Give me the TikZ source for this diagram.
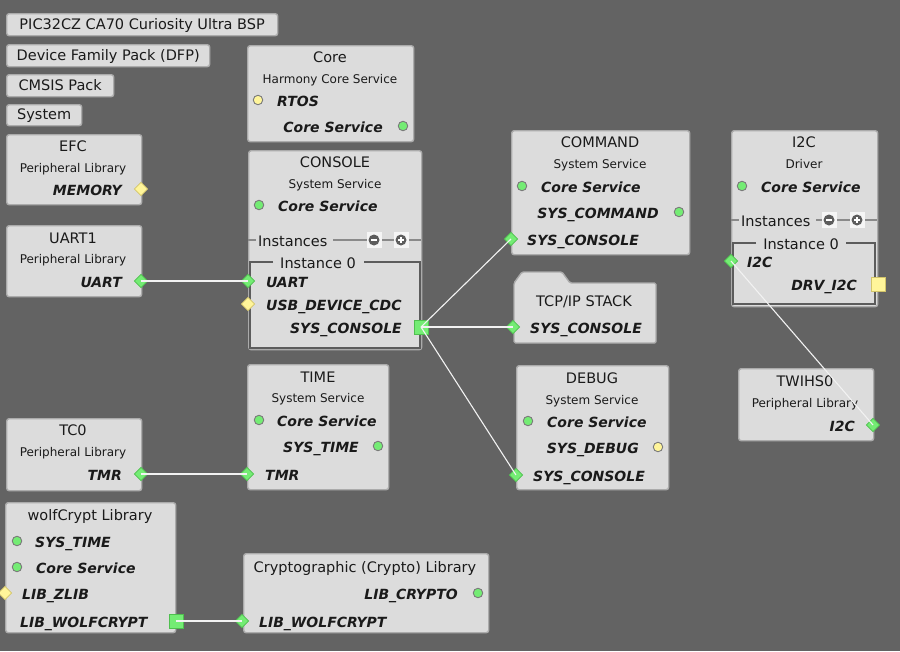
\documentclass[tikz,border=0pt]{standalone}
\usepackage{fontspec}
\setmainfont{DejaVu Sans}
\usetikzlibrary{shapes.geometric}
\definecolor{bgc}{HTML}{636363}
\definecolor{boxc}{HTML}{DCDCDC}
\definecolor{bordc}{HTML}{ABABAB}
\definecolor{txt}{HTML}{1A1A1A}
\definecolor{pgreen}{HTML}{74EC74}
\definecolor{pgreenD}{HTML}{4FBF4F}
\definecolor{pyel}{HTML}{FFF59A}
\definecolor{pyelD}{HTML}{D2C46A}
\definecolor{ringc}{HTML}{7A7A7A}
\definecolor{connc}{HTML}{F2F2F2}
\definecolor{instc}{HTML}{8A8A8A}
\definecolor{framec}{HTML}{5C5C5C}
\tikzset{
  box/.style={draw=bordc, fill=boxc, line width=1.4pt, rounded corners=2.5pt, inner sep=0, anchor=north west},
  boxt/.style={box, font=\fontsize{14.5}{17}\selectfont, text=txt, text height=10.5, text depth=1},
  ttl/.style={font=\fontsize{14.5}{17}\selectfont, text=txt, inner sep=0, anchor=mid, yshift=-3.5pt},
  sub/.style={font=\fontsize{12}{14}\selectfont, text=txt, inner sep=0, anchor=mid, yshift=-3pt},
  lbl/.style={font=\fontsize{14}{16}\selectfont\bfseries\itshape, text=txt, inner sep=0, yshift=-3.5pt},
  lw/.style={lbl, anchor=mid west},
  le/.style={lbl, anchor=mid east},
  gd/.style={diamond, fill=pgreen, draw=pgreenD, line width=0.6pt, inner sep=0, minimum size=13.5},
  yd/.style={diamond, fill=pyel, draw=pyelD, line width=0.6pt, inner sep=0, minimum size=13.5},
  gc/.style={circle, fill=pgreen, draw=ringc, line width=0.9pt, inner sep=0, minimum size=9.5},
  yc/.style={circle, fill=pyel, draw=ringc, line width=0.9pt, inner sep=0, minimum size=9.5},
  gs/.style={rectangle, fill=pgreen, draw=pgreenD, line width=0.6pt, inner sep=0, minimum size=14},
  ys/.style={rectangle, fill=pyel, draw=pyelD, line width=0.6pt, inner sep=0, minimum size=14},
  conn/.style={draw=connc, line width=1.1pt},
  instl/.style={draw=instc, line width=1.2pt},
  framel/.style={draw=framec, line width=1.3pt},
  btn/.style={rectangle, fill=white!92!gray, inner sep=0, minimum width=15, minimum height=16},
  btnc/.style={circle, fill=framec, inner sep=0, minimum size=11},
}
\newcommand\blk[5]{\node[box, minimum width={#4-#2}, minimum height={#5-#3}] (#1) at (#2,#3) {};}
\newcommand\mybtn[4]{\node[btn] (#1) at (#2,#3) {};
  \node[btnc] (#1c) at (#2,#3) {};
  \draw[white, line width=1.4pt] ([xshift=-3pt]#1c.center) -- ([xshift=3pt]#1c.center);
  \ifx#4+\draw[white, line width=1.4pt] ([yshift=-3pt]#1c.center) -- ([yshift=3pt]#1c.center);\fi}
\begin{document}
\begin{tikzpicture}[x=1pt,y=-1pt]
\fill[bgc] (0,0) rectangle (900,651);
\useasboundingbox (0,0) rectangle (900,651);

% top simple boxes
\node[boxt, minimum width=271, minimum height=22] (bsp) at (6,13) {PIC32CZ CA70 Curiosity Ultra BSP};
\node[boxt, minimum width=203, minimum height=22] (dfp) at (6,44) {Device Family Pack (DFP)};
\node[boxt, minimum width=107, minimum height=22] (cmsis) at (6,74) {CMSIS Pack};
\node[boxt, minimum width=75, minimum height=21] (system) at (6,104) {System};

% EFC
\blk{efc}{6}{134}{141}{204}
\node[ttl] (efcT) at (73,145) {EFC};
\node[sub] (efcS) at (73,167) {Peripheral Library};
\node[le] (efcM) at (122,189) {MEMORY};
\node[yd] (efcMp) at (141,189) {};

% Core
\blk{core}{247}{45}{413}{141}
\node[ttl] (coreT) at (330,56) {Core};
\node[sub] (coreS) at (330,78) {Harmony Core Service};
\node[yc] (coreRp) at (258,100) {};
\node[lw] (coreR) at (277,100) {RTOS};
\node[le] (coreC) at (383,126) {Core Service};
\node[gc] (coreCp) at (403,126) {};

% CONSOLE
\blk{console}{248}{150}{421}{349}
\node[ttl] (conT) at (335,161) {CONSOLE};
\node[sub] (conS) at (335,183) {System Service};
\node[gc] (conCp) at (259,205) {};
\node[lw] (conC) at (278,205) {Core Service};
\draw[instl] (248,240) -- (256,240);
\node[ttl, anchor=mid west] (conI) at (258,240) {Instances};
\draw[instl] (333,240) -- (367,240);
\mybtn{conMinus}{374}{240}{-}
\draw[instl] (382,240) -- (394,240);
\mybtn{conPlus}{401}{240}{+}
\draw[instl] (409,240) -- (421,240);
\draw[framel] (273,262) -- (250,262) -- (250,348) -- (420,348) -- (420,262) -- (364,262);
\node[ttl] (conI0) at (318,262) {Instance 0};
\node[lw] (conU) at (266,281) {UART};
\node[gd] (conUp) at (248,281) {};
\node[lw] (conUSB) at (266,304) {USB\_DEVICE\_CDC};
\node[yd] (conUSBp) at (248,304) {};
\node[le] (conSC) at (402,327) {SYS\_CONSOLE};
\node[gs] (conSCp) at (421,327) {};

% UART1
\blk{uart}{6}{225}{141}{296}
\node[ttl] (uartT) at (73,237) {UART1};
\node[sub] (uartS) at (73,258) {Peripheral Library};
\node[le] (uartU) at (122,281) {UART};
\node[gd] (uartUp) at (141,281) {};

% TIME
\blk{time}{247}{364}{388}{489}
\node[ttl] (timeT) at (318,376) {TIME};
\node[sub] (timeS) at (318,397) {System Service};
\node[gc] (timeCp) at (259,420) {};
\node[lw] (timeC) at (277,420) {Core Service};
\node[le] (timeST) at (359,446) {SYS\_TIME};
\node[gc] (timeSTp) at (378,446) {};
\node[lw] (timeM) at (265,474) {TMR};
\node[gd] (timeMp) at (247,474) {};

% TC0
\blk{tc}{6}{418}{141}{490}
\node[ttl] (tcT) at (73,429) {TC0};
\node[sub] (tcS) at (73,451) {Peripheral Library};
\node[le] (tcM) at (122,474) {TMR};
\node[gd] (tcMp) at (141,474) {};

% wolfCrypt
\blk{wolf}{5}{502}{175}{632}
\node[ttl] (wolfT) at (90,514) {wolfCrypt Library};
\node[gc] (wolfSTp) at (17,541) {};
\node[lw] (wolfST) at (35,541) {SYS\_TIME};
\node[gc] (wolfCp) at (17,567) {};
\node[lw] (wolfC) at (36,567) {Core Service};
\node[yd] (wolfZp) at (5,593) {};
\node[lw] (wolfZ) at (22,593) {LIB\_ZLIB};
\node[lw] (wolfW) at (20,621) {LIB\_WOLFCRYPT};
\node[gs] (wolfWp) at (176,621) {};

% Crypto
\blk{crypto}{243}{553}{488}{632}
\node[ttl] (cryT) at (365,566) {Cryptographic (Crypto) Library};
\node[le] (cryC) at (458,593) {LIB\_CRYPTO};
\node[gc] (cryCp) at (478,593) {};
\node[gd] (cryWp) at (242,621) {};
\node[lw] (cryW) at (259,621) {LIB\_WOLFCRYPT};

% COMMAND
\blk{command}{511}{130}{689}{254}
\node[ttl] (cmdT) at (600,141) {COMMAND};
\node[sub] (cmdS) at (600,163) {System Service};
\node[gc] (cmdCp) at (522,186) {};
\node[lw] (cmdC) at (541,186) {Core Service};
\node[le] (cmdSC) at (659,212) {SYS\_COMMAND};
\node[gc] (cmdSCp) at (679,212) {};
\node[gd] (cmdConp) at (511,239) {};
\node[lw] (cmdCon) at (527,239) {SYS\_CONSOLE};

% TCP/IP STACK (folder)
\draw[draw=bordc, fill=boxc, line width=1.4pt, rounded corners=1.5pt]
  (514,343) -- (514,283) -- (522,272) -- (562,272) -- (570,283) -- (656,283) -- (656,343) -- cycle;
\node[ttl] (tcpT) at (584,300) {TCP/IP STACK};
\node[gd] (tcpConp) at (513,327) {};
\node[lw] (tcpCon) at (530,327) {SYS\_CONSOLE};

% DEBUG
\blk{debug}{516}{365}{668}{489}
\node[ttl] (dbgT) at (592,377) {DEBUG};
\node[sub] (dbgS) at (592,399) {System Service};
\node[gc] (dbgCp) at (528,421) {};
\node[lw] (dbgC) at (547,421) {Core Service};
\node[le] (dbgD) at (639,447) {SYS\_DEBUG};
\node[yc] (dbgDp) at (658,447) {};
\node[gd] (dbgConp) at (516,475) {};
\node[lw] (dbgCon) at (533,475) {SYS\_CONSOLE};

% I2C driver
\blk{i2c}{731}{130}{877}{306}
\node[ttl] (i2cT) at (804,141) {I2C};
\node[sub] (i2cS) at (804,163) {Driver};
\node[gc] (i2cCp) at (742,186) {};
\node[lw] (i2cC) at (761,186) {Core Service};
\draw[instl] (731,220) -- (739,220);
\node[ttl, anchor=mid west] (i2cI) at (741,220) {Instances};
\draw[instl] (816,220) -- (822,220);
\mybtn{i2cMinus}{829}{220}{-}
\draw[instl] (837,220) -- (850,220);
\mybtn{i2cPlus}{857}{220}{+}
\draw[instl] (865,220) -- (877,220);
\draw[framel] (756,243) -- (733,243) -- (733,304) -- (875,304) -- (875,243) -- (846,243);
\node[ttl] (i2cI0) at (801,243) {Instance 0};
\node[gd] (i2cIp) at (731,261) {};
\node[lw] (i2cIl) at (747,261) {I2C};
\node[le] (i2cD) at (857,284) {DRV\_I2C};
\node[ys] (i2cDp) at (878,284) {};

% TWIHS0
\blk{twi}{738}{368}{873}{440}
\node[ttl] (twiT) at (805,380) {TWIHS0};
\node[sub] (twiS) at (805,402) {Peripheral Library};
\node[le] (twiI) at (855,425) {I2C};
\node[gd] (twiIp) at (873,425) {};

% connectors
\draw[conn] (uartUp.center) -- (conUp.center);
\draw[conn] (tcMp.center) -- (timeMp.center);
\draw[conn] (conSCp.center) -- (cmdConp.center);
\draw[conn] (conSCp.center) -- (tcpConp.center);
\draw[conn] (conSCp.center) -- (dbgConp.center);
\draw[conn] (wolfWp.center) -- (cryWp.center);
\draw[conn] (i2cIp.center) -- (twiIp.center);
\end{tikzpicture}
\end{document}
